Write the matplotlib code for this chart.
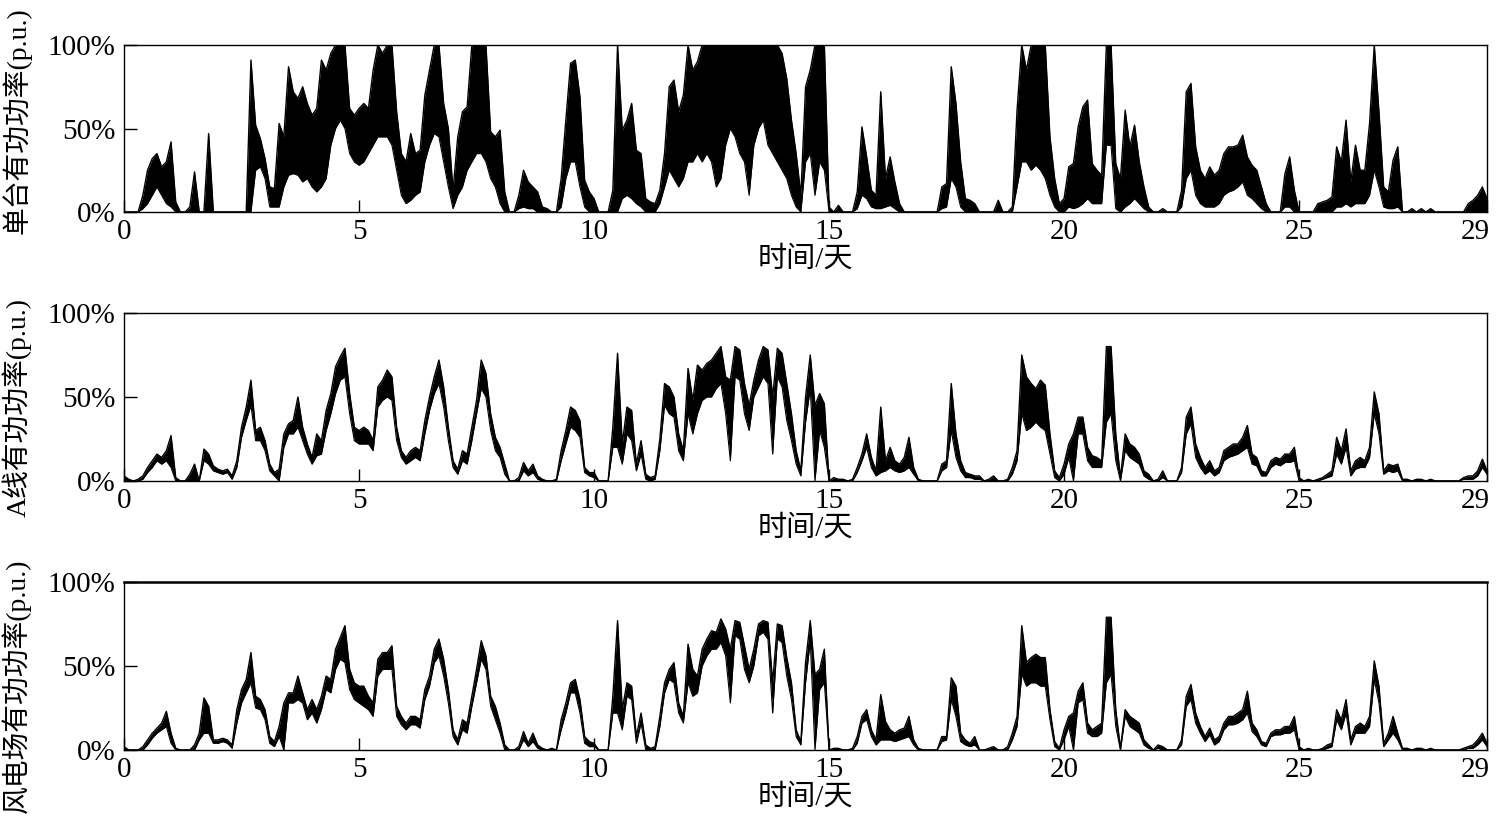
import numpy as np
import matplotlib
matplotlib.use("Agg")
import matplotlib.pyplot as plt
from matplotlib.transforms import ScaledTranslation

plt.rcParams['font.family'] = ['Liberation Serif', 'Noto Sans CJK SC', 'DejaVu Sans']

# ---------------- data (percent of rated power, sampled every 0.1 day) ----------------
step_day = 0.1

turbine_hi = [
    0, 0, 0, 0, 10, 25, 32, 35, 27, 30,
    42, 6, 0, 0, 3, 24, 0, 0, 47, 0,
    0, 0, 0, 0, 0, 0, 0, 91, 52, 44,
    32, 15, 14, 53, 45, 87, 72, 68, 75, 65,
    58, 62, 91, 85, 95, 100, 100, 100, 62, 58,
    62, 65, 62, 85, 100, 95, 100, 100, 60, 35,
    30, 47, 35, 37, 70, 85, 100, 100, 65, 50,
    13, 45, 60, 63, 100, 100, 100, 100, 48, 45,
    49, 12, 0, 0, 10, 25, 18, 15, 12, 3,
    2, 0, 0, 20, 55, 89, 91, 69, 19, 12,
    8, 0, 0, 0, 13, 100, 49, 55, 65, 37,
    35, 8, 6, 5, 13, 35, 75, 79, 60, 70,
    100, 85, 90, 100, 100, 100, 100, 100, 100, 100,
    100, 100, 100, 100, 100, 100, 100, 100, 100, 100,
    95, 80, 55, 35, 10, 75, 85, 100, 100, 100,
    3, 0, 4, 0, 0, 0, 12, 51, 33, 13,
    10, 72, 20, 33, 18, 5, 0, 0, 0, 0,
    0, 0, 0, 0, 15, 17, 87, 65, 30, 8,
    7, 5, 0, 0, 0, 0, 7, 0, 0, 3,
    61, 100, 85, 100, 100, 100, 100, 45, 20, 5,
    8, 27, 29, 51, 63, 67, 29, 25, 22, 100,
    100, 29, 20, 61, 39, 52, 30, 15, 3, 0,
    0, 2, 0, 0, 0, 13, 72, 77, 39, 25,
    20, 27, 22, 25, 35, 39, 39, 40, 46, 33,
    28, 25, 15, 5, 0, 0, 0, 23, 33, 13,
    0, 0, 0, 0, 5, 6, 7, 9, 39, 30,
    55, 18, 40, 25, 25, 53, 100, 60, 15, 12,
    31, 39, 0, 0, 2, 0, 2, 0, 2, 0,
    0, 0, 0, 0, 0, 0, 5, 7, 10, 15,
    8,
]
turbine_lo = [
    0, 0, 0, 0, 2, 5, 10, 15, 10, 5,
    3, 0, 0, 0, 0, 0, 0, 0, 0, 0,
    0, 0, 0, 0, 0, 0, 0, 0, 25, 27,
    20, 3, 3, 3, 15, 22, 23, 22, 18, 20,
    15, 12, 15, 20, 40, 50, 55, 50, 35, 30,
    28, 30, 35, 40, 45, 45, 45, 40, 25, 10,
    5, 7, 10, 12, 30, 40, 47, 45, 30, 15,
    2, 10, 15, 25, 30, 35, 35, 30, 20, 15,
    5, 0, 0, 0, 2, 3, 2, 2, 0, 0,
    0, 0, 0, 3, 20, 30, 30, 15, 3, 0,
    0, 0, 0, 0, 0, 0, 8, 10, 8, 5,
    3, 0, 0, 0, 5, 15, 25, 20, 15, 20,
    30, 30, 35, 30, 35, 30, 15, 20, 40, 50,
    45, 35, 30, 10, 40, 50, 55, 40, 35, 30,
    25, 20, 10, 3, 0, 30, 35, 10, 30, 25,
    0, 0, 0, 0, 0, 0, 2, 10, 8, 3,
    2, 2, 3, 4, 2, 0, 0, 0, 0, 0,
    0, 0, 0, 0, 2, 3, 20, 15, 3, 0,
    0, 0, 0, 0, 0, 0, 0, 0, 0, 0,
    15, 30, 30, 25, 28, 25, 20, 10, 3, 0,
    0, 3, 2, 3, 5, 8, 5, 5, 5, 40,
    40, 2, 0, 3, 5, 8, 5, 2, 0, 0,
    0, 0, 0, 0, 0, 3, 20, 25, 10, 5,
    3, 3, 3, 5, 10, 12, 13, 15, 18, 10,
    8, 5, 2, 0, 0, 0, 0, 3, 3, 0,
    0, 0, 0, 0, 0, 0, 0, 0, 3, 3,
    5, 3, 5, 5, 5, 10, 25, 15, 3, 2,
    2, 3, 0, 0, 0, 0, 0, 0, 0, 0,
    0, 0, 0, 0, 0, 0, 0, 0, 0, 0,
    0,
]

lineA_hi = [
    3, 1, 0, 1, 3, 8, 12, 16, 14, 18,
    27, 2, 0, 0, 4, 10, 0, 19, 16, 9,
    7, 6, 7, 3, 12, 32, 44, 60, 30, 32,
    24, 10, 5, 7, 28, 34, 36, 50, 32, 22,
    14, 28, 24, 42, 52, 68, 74, 79, 52, 32,
    30, 32, 30, 24, 56, 60, 66, 62, 32, 18,
    14, 18, 20, 18, 36, 50, 62, 72, 56, 32,
    12, 7, 18, 16, 32, 48, 72, 64, 40, 26,
    20, 10, 0, 0, 2, 11, 6, 10, 3, 1,
    0, 0, 1, 18, 30, 44, 42, 36, 8, 5,
    5, 0, 0, 0, 32, 76, 22, 44, 42, 10,
    24, 4, 2, 3, 25, 58, 56, 50, 28, 18,
    67, 48, 69, 66, 70, 72, 76, 80, 62, 60,
    80, 78, 58, 45, 60, 72, 80, 78, 50, 79,
    76, 58, 40, 18, 6, 50, 75, 45, 52, 46,
    0, 2, 1, 1, 0, 1, 8, 16, 28, 14,
    6, 44, 12, 20, 12, 10, 14, 26, 8, 1,
    0, 0, 0, 0, 10, 12, 58, 28, 12, 5,
    4, 3, 3, 0, 1, 3, 0, 0, 1, 8,
    18, 75, 62, 58, 55, 60, 57, 28, 6, 2,
    10, 22, 28, 38, 38, 20, 15, 14, 12, 80,
    80, 28, 2, 28, 22, 20, 16, 6, 4, 0,
    1, 6, 0, 0, 0, 8, 38, 44, 22, 14,
    8, 12, 6, 8, 18, 20, 22, 22, 26, 33,
    16, 14, 6, 5, 12, 14, 13, 16, 16, 20,
    2, 0, 1, 0, 1, 2, 4, 6, 26, 18,
    31, 6, 12, 14, 12, 20, 53, 40, 6, 10,
    9, 10, 1, 1, 0, 1, 1, 0, 1, 0,
    0, 0, 0, 0, 0, 2, 3, 3, 6, 13,
    6,
]
lineA_lo = [
    0, 0, 0, 0, 1, 5, 8, 12, 10, 12,
    8, 0, 0, 0, 0, 0, 0, 12, 10, 6,
    5, 4, 5, 1, 8, 26, 36, 45, 24, 24,
    18, 6, 3, 0, 20, 28, 28, 32, 24, 16,
    10, 15, 16, 30, 40, 52, 60, 62, 40, 24,
    22, 22, 22, 18, 44, 48, 50, 48, 24, 14,
    10, 12, 14, 12, 28, 42, 52, 58, 44, 24,
    8, 4, 12, 10, 24, 40, 55, 50, 30, 18,
    14, 4, 0, 0, 0, 6, 3, 5, 1, 0,
    0, 0, 0, 12, 22, 32, 30, 26, 5, 3,
    2, 0, 0, 0, 20, 20, 10, 28, 24, 6,
    16, 1, 0, 1, 18, 45, 40, 38, 18, 12,
    40, 28, 40, 48, 50, 50, 55, 58, 40, 12,
    62, 60, 40, 30, 50, 56, 62, 58, 16, 62,
    56, 36, 24, 10, 3, 35, 55, 0, 30, 20,
    0, 0, 0, 0, 0, 0, 5, 12, 20, 8,
    3, 5, 6, 8, 6, 5, 6, 8, 4, 0,
    0, 0, 0, 0, 6, 8, 30, 14, 6, 2,
    2, 1, 1, 0, 0, 0, 0, 0, 0, 4,
    12, 40, 30, 32, 35, 32, 30, 16, 2, 0,
    4, 14, 0, 28, 28, 12, 8, 8, 8, 35,
    40, 12, 0, 18, 14, 12, 10, 3, 1, 0,
    0, 2, 0, 0, 0, 5, 28, 34, 14, 8,
    4, 6, 3, 5, 12, 14, 15, 16, 18, 20,
    10, 9, 3, 3, 8, 10, 9, 11, 11, 12,
    0, 0, 0, 0, 0, 1, 2, 3, 16, 10,
    20, 3, 7, 8, 8, 14, 40, 28, 4, 6,
    5, 6, 0, 0, 0, 0, 0, 0, 0, 0,
    0, 0, 0, 0, 0, 1, 1, 1, 3, 8,
    4,
]

farm_hi = [
    2, 0, 0, 0, 2, 6, 10, 13, 16, 23,
    10, 1, 0, 0, 0, 3, 10, 31, 26, 6,
    6, 7, 6, 3, 24, 36, 42, 58, 32, 30,
    24, 8, 5, 14, 28, 34, 34, 44, 34, 24,
    30, 24, 32, 44, 42, 60, 67, 74, 48, 40,
    38, 38, 32, 28, 54, 58, 58, 62, 26, 20,
    16, 20, 20, 18, 36, 44, 60, 66, 54, 36,
    12, 6, 18, 16, 32, 48, 65, 56, 32, 26,
    16, 3, 0, 0, 2, 11, 4, 10, 3, 1,
    0, 1, 0, 18, 28, 40, 42, 30, 8, 5,
    4, 0, 0, 0, 32, 77, 24, 40, 38, 8,
    22, 3, 1, 2, 20, 40, 48, 52, 28, 20,
    63, 48, 44, 60, 66, 71, 70, 78, 72, 60,
    77, 76, 62, 48, 60, 75, 77, 76, 40, 75,
    74, 55, 40, 12, 5, 52, 77, 45, 48, 60,
    0, 1, 1, 0, 0, 1, 8, 20, 24, 12,
    6, 33, 17, 12, 10, 12, 13, 20, 6, 1,
    0, 0, 0, 0, 8, 8, 43, 38, 10, 6,
    4, 8, 0, 0, 1, 2, 0, 0, 2, 10,
    20, 74, 52, 55, 57, 55, 55, 24, 5, 1,
    12, 20, 22, 35, 40, 16, 12, 14, 16, 79,
    79, 24, 1, 24, 20, 18, 16, 6, 3, 0,
    3, 2, 0, 0, 0, 6, 32, 39, 22, 14,
    8, 13, 6, 8, 16, 20, 20, 22, 24, 35,
    16, 12, 5, 4, 10, 12, 12, 14, 14, 20,
    2, 0, 1, 0, 0, 1, 3, 4, 24, 18,
    30, 6, 14, 16, 14, 20, 53, 38, 4, 10,
    20, 10, 1, 1, 0, 1, 1, 0, 1, 0,
    0, 0, 0, 0, 0, 1, 2, 3, 6, 10,
    4,
]
farm_lo = [
    0, 0, 0, 0, 0, 3, 7, 10, 12, 14,
    4, 0, 0, 0, 0, 0, 6, 10, 10, 4,
    4, 5, 4, 1, 16, 28, 34, 40, 25, 24,
    18, 4, 2, 8, 0, 28, 28, 30, 28, 18,
    22, 16, 24, 36, 34, 48, 54, 52, 36, 30,
    28, 26, 24, 20, 44, 48, 48, 48, 20, 15,
    12, 15, 15, 13, 30, 38, 52, 56, 44, 28,
    8, 3, 12, 10, 26, 40, 54, 48, 26, 18,
    10, 0, 0, 0, 0, 6, 2, 5, 1, 0,
    0, 0, 0, 12, 22, 34, 34, 22, 4, 2,
    2, 0, 0, 0, 22, 22, 12, 32, 30, 4,
    16, 0, 0, 0, 14, 34, 42, 40, 22, 16,
    40, 32, 34, 50, 56, 60, 60, 64, 56, 28,
    68, 66, 48, 40, 50, 68, 70, 66, 22, 66,
    64, 44, 30, 8, 3, 40, 65, 0, 36, 40,
    0, 0, 0, 0, 0, 0, 4, 16, 18, 8,
    3, 6, 6, 6, 5, 6, 7, 8, 3, 0,
    0, 0, 0, 0, 5, 6, 30, 20, 5, 3,
    2, 3, 0, 0, 0, 0, 0, 0, 0, 6,
    14, 45, 38, 40, 40, 38, 38, 18, 2, 0,
    6, 14, 0, 28, 30, 10, 8, 8, 10, 40,
    45, 14, 0, 20, 14, 12, 10, 3, 1, 0,
    1, 0, 0, 0, 0, 3, 26, 30, 16, 10,
    5, 9, 3, 5, 12, 15, 15, 16, 18, 22,
    11, 8, 3, 2, 8, 9, 9, 10, 10, 12,
    0, 0, 0, 0, 0, 0, 1, 2, 18, 12,
    22, 3, 10, 10, 10, 14, 42, 28, 2, 6,
    10, 6, 0, 0, 0, 0, 0, 0, 0, 0,
    0, 0, 0, 0, 0, 0, 1, 1, 3, 6,
    2,
]

ylabels = ['单台有功功率(p.u.)', 'A线有功功率(p.u.)', '风电场有功功率(p.u.)']
xlabel = '时间/天'
xticks = [0, 5, 10, 15, 20, 25, 29]
yticks = [0, 50, 100]
ytick_labels = ['0%', '50%', '100%']

# ---------------- figure ----------------
fig = plt.figure(figsize=(14.98, 8.34), dpi=100)
boxes = [
    [0.0828, 0.7458, 0.9099, 0.2002],
    [0.0828, 0.4233, 0.9099, 0.2014],
    [0.0828, 0.1007, 0.9099, 0.2015],
]
ylabel_y = [0.55, 0.44, 0.38]
series = [(turbine_hi, turbine_lo), (lineA_hi, lineA_lo), (farm_hi, farm_lo)]

for i, (box, (hi, lo), yl) in enumerate(zip(boxes, series, ylabels)):
    ax = fig.add_axes(box)
    hi = np.asarray(hi, dtype=float)
    lo = np.asarray(lo, dtype=float)
    days = np.round(np.arange(len(hi)) * step_day, 1)
    ax.fill_between(days, lo, hi, color='black', linewidth=0)
    ax.plot(days, hi, color='black', lw=1.0)
    ax.plot(days, lo, color='black', lw=0.8)
    ax.set_xlim(0, 29)
    ax.set_ylim(0, 100)
    ax.set_xticks(xticks)
    ax.set_xticklabels([str(t) for t in xticks])
    ax.set_yticks(yticks)
    ax.set_yticklabels(ytick_labels)
    ax.tick_params(direction='in', length=9, width=1.0, labelsize=21,
                   top=False, right=False)
    ax.tick_params(axis='x', pad=5)
    ax.tick_params(axis='y', pad=6)
    # nudge the last x tick label ("29") inward so it stays on the canvas
    last = ax.get_xticklabels()[-1]
    last.set_transform(last.get_transform() + ScaledTranslation(-12 / 100, 0, fig.dpi_scale_trans))
    for s in ax.spines.values():
        s.set_linewidth(1.0)
    if i == 2:
        ax.spines['top'].set_linewidth(1.8)
    ax.set_xlabel(xlabel, fontsize=21, labelpad=1)
    ax.set_ylabel(yl, fontsize=20)
    ax.yaxis.set_label_coords(-0.068, ylabel_y[i])

fig.savefig('out.png', dpi=100)
